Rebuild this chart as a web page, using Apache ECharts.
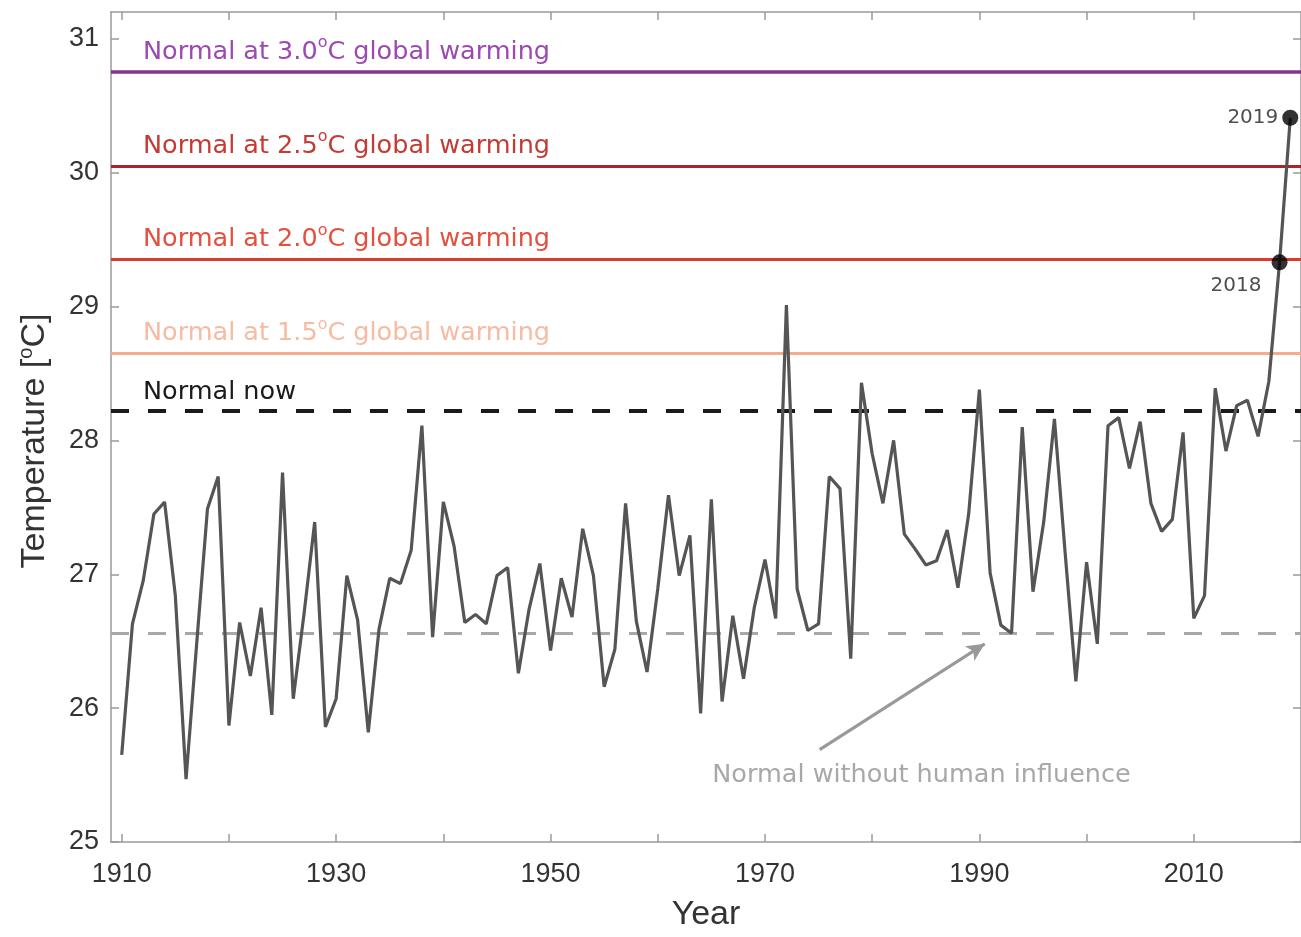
<!DOCTYPE html>
<html>
<head>
<meta charset="utf-8">
<script src="https://cdn.jsdelivr.net/npm/echarts@6/dist/echarts.min.js"></script>
<style>
  html, body { margin: 0; padding: 0; background: #ffffff; }
  #chart { width: 1301px; height: 937px; }
</style>
</head>
<body>
<div id="chart"></div>
<script>
// Annual temperature series, one value per year starting at firstYear
const firstYear = 1910;
const temps = [
  25.65, 26.63, 26.95, 27.45, 27.54, 26.84, 25.47, 26.49, 27.49, 27.73,
  25.87, 26.64, 26.24, 26.75, 25.95, 27.76, 26.07, 26.70, 27.39, 25.86,
  26.07, 26.99, 26.66, 25.82, 26.59, 26.97, 26.93, 27.18, 28.11, 26.53,
  27.54, 27.21, 26.64, 26.70, 26.63, 26.99, 27.05, 26.26, 26.74, 27.08,
  26.43, 26.97, 26.68, 27.34, 26.99, 26.16, 26.44, 27.53, 26.65, 26.27,
  26.89, 27.59, 26.99, 27.29, 25.96, 27.56, 26.05, 26.69, 26.22, 26.75,
  27.11, 26.67, 29.01, 26.89, 26.58, 26.63, 27.73, 27.64, 26.37, 28.43,
  27.90, 27.53, 28.00, 27.30, 27.19, 27.07, 27.10, 27.33, 26.90, 27.45,
  28.38, 27.01, 26.62, 26.56, 28.10, 26.87, 27.39, 28.16, 27.16, 26.20,
  27.09, 26.48, 28.11, 28.17, 27.79, 28.14, 27.53, 27.32, 27.41, 28.06,
  26.67, 26.84, 28.39, 27.92, 28.26, 28.30, 28.03, 28.44, 29.33, 30.41
];

// Reference levels ("normal" temperatures)
const levelNames  = ['3.0', '2.5', '2.0', '1.5'];
const levelValues = [30.75, 30.05, 29.35, 28.65];
const normalNow = 28.22;
const normalNatural = 26.56;

// Highlighted years
const markedYears = [2018, 2019];

// Axis ticks
const xTicks = [1910, 1920, 1930, 1940, 1950, 1960, 1970, 1980, 1990, 2000, 2010];
const xLabels = [1910, 1930, 1950, 1970, 1990, 2010];
const yTicks = [25, 26, 27, 28, 29, 30, 31];

// Annotation arrow for the pre-industrial normal
const arrowFrom = [1975.1, 25.69];
const arrowTo = [1990.5, 26.48];
const arrowTextAt = [1984.6, 25.50];

const seriesData = temps.map((t, i) => [firstYear + i, t]);
const markedData = markedYears.map(y => [y, temps[y - firstYear]]);

const levelLineColors = ['#83348f', '#ab2429', '#dd3b2c', '#f6ab8c'];
const levelTextColors = ['#9d49b2', '#c43b33', '#e4503e', '#f7bba2'];

const FONT = 'Liberation Sans, Arial, Helvetica, sans-serif';
const WIDE = 'DejaVu Sans, Verdana, sans-serif';
const AXIS_COLOR = '#9a9a9a';
const LABEL_SIZE = 25.5;

function supRich(color) {
  return {
    t: { fontSize: LABEL_SIZE, color: color, fontFamily: WIDE, verticalAlign: 'bottom', lineHeight: 30 },
    s: { fontSize: 16, color: color, fontFamily: WIDE, verticalAlign: 'top', lineHeight: 30, padding: [0, 0, 13, 0] }
  };
}

const levelLines = levelNames.map((name, i) => ({
  yAxis: levelValues[i],
  lineStyle: { color: levelLineColors[i], width: i === 0 ? 3.5 : 3, type: 'solid' },
  label: {
    show: true,
    position: 'insideStartTop',
    distance: [32, 7],
    formatter: '{t|Normal at ' + name + '}{s|o}{t|C global warming}',
    rich: supRich(levelTextColors[i])
  }
}));

function frameAxis(extra) {
  return Object.assign({
    axisLine: { show: true, lineStyle: { color: AXIS_COLOR, width: 1.5 } },
    splitLine: { show: false }
  }, extra);
}

const option = {
  backgroundColor: '#ffffff',
  animation: false,
  grid: { left: 111, right: 0, top: 12, bottom: 89, containLabel: false },
  xAxis: [
    frameAxis({
      type: 'value', min: 1909, max: 2020, position: 'bottom',
      name: 'Year', nameLocation: 'middle', nameGap: 56,
      nameTextStyle: { fontSize: 34, color: '#333', fontFamily: FONT },
      axisTick: { show: true, inside: true, length: 8, customValues: xTicks, lineStyle: { color: AXIS_COLOR, width: 1.5 } },
      axisLabel: { show: true, customValues: xLabels, formatter: v => String(v), fontSize: 27, color: '#333', fontFamily: FONT, margin: 19 }
    }),
    frameAxis({
      type: 'value', min: 1909, max: 2020, position: 'top',
      axisTick: { show: true, inside: true, length: 8, customValues: xTicks, lineStyle: { color: AXIS_COLOR, width: 1.5 } },
      axisLabel: { show: false }
    })
  ],
  yAxis: [
    frameAxis({
      type: 'value', min: 25, max: 31.2, position: 'left',
      name: '{a|Temperature [}{s|o}{a|C]}', nameLocation: 'middle', nameGap: 59, nameRotate: 90,
      nameTextStyle: {
        padding: [0, 28, 0, 0],
        rich: {
          a: { fontSize: 34, color: '#333', fontFamily: FONT, verticalAlign: 'bottom', lineHeight: 36 },
          s: { fontSize: 20, color: '#333', fontFamily: FONT, verticalAlign: 'top', lineHeight: 36, padding: [0, 0, 16, 0] }
        }
      },
      axisTick: { show: true, inside: true, length: 8, customValues: yTicks, lineStyle: { color: AXIS_COLOR, width: 1.5 } },
      axisLabel: { show: true, customValues: yTicks, fontSize: 27, color: '#333', fontFamily: FONT, margin: 12 }
    }),
    frameAxis({
      type: 'value', min: 25, max: 31.2, position: 'right',
      axisTick: { show: true, inside: true, length: 8, customValues: yTicks, lineStyle: { color: AXIS_COLOR, width: 1.5 } },
      axisLabel: { show: false }
    })
  ],
  series: [
    {
      name: 'reference',
      type: 'line',
      data: [],
      silent: true,
      markLine: {
        silent: true,
        symbol: 'none',
        animation: false,
        data: levelLines.concat([
          {
            yAxis: normalNow,
            lineStyle: { color: '#1a1a1a', width: 4, type: [18, 19] },
            label: {
              show: true, position: 'insideStartTop', distance: [32, 6],
              formatter: 'Normal now', fontSize: LABEL_SIZE, color: '#1a1a1a', fontFamily: WIDE
            }
          },
          {
            yAxis: normalNatural,
            lineStyle: { color: '#a8a8a8', width: 3, type: [18, 19] },
            label: { show: false }
          },
          [
            { coord: arrowFrom, symbol: 'none', lineStyle: { color: '#999999', width: 3, type: 'solid' }, label: { show: false } },
            { coord: arrowTo, symbol: 'arrow', symbolSize: [13, 18] }
          ]
        ])
      },
      markPoint: {
        silent: true,
        symbol: 'circle',
        symbolSize: 0,
        data: [
          {
            coord: arrowTextAt,
            label: {
              show: true, position: 'inside',
              formatter: 'Normal without human influence',
              fontSize: LABEL_SIZE, color: '#a8a8a8', fontFamily: WIDE
            }
          }
        ]
      }
    },
    {
      name: 'temperature',
      type: 'line',
      data: seriesData,
      showSymbol: false,
      symbol: 'none',
      lineStyle: { color: '#555555', width: 3.2 },
      z: 5
    },
    {
      name: 'highlight',
      type: 'scatter',
      data: markedData.map((d, i) => i === 0
        ? { value: d, label: { position: [-61, 21] } }
        : { value: d }),
      symbol: 'circle',
      symbolSize: 16,
      itemStyle: { color: '#000000' },
      z: 6,
      label: {
        show: true,
        fontSize: 20,
        color: '#222',
        fontFamily: WIDE,
        formatter: p => String(p.value[0]),
        position: 'left',
        distance: 4
      }
    }
  ]
};

const chart = echarts.init(document.getElementById('chart'), null, { renderer: 'canvas' });
chart.setOption(option);
</script>
</body>
</html>
